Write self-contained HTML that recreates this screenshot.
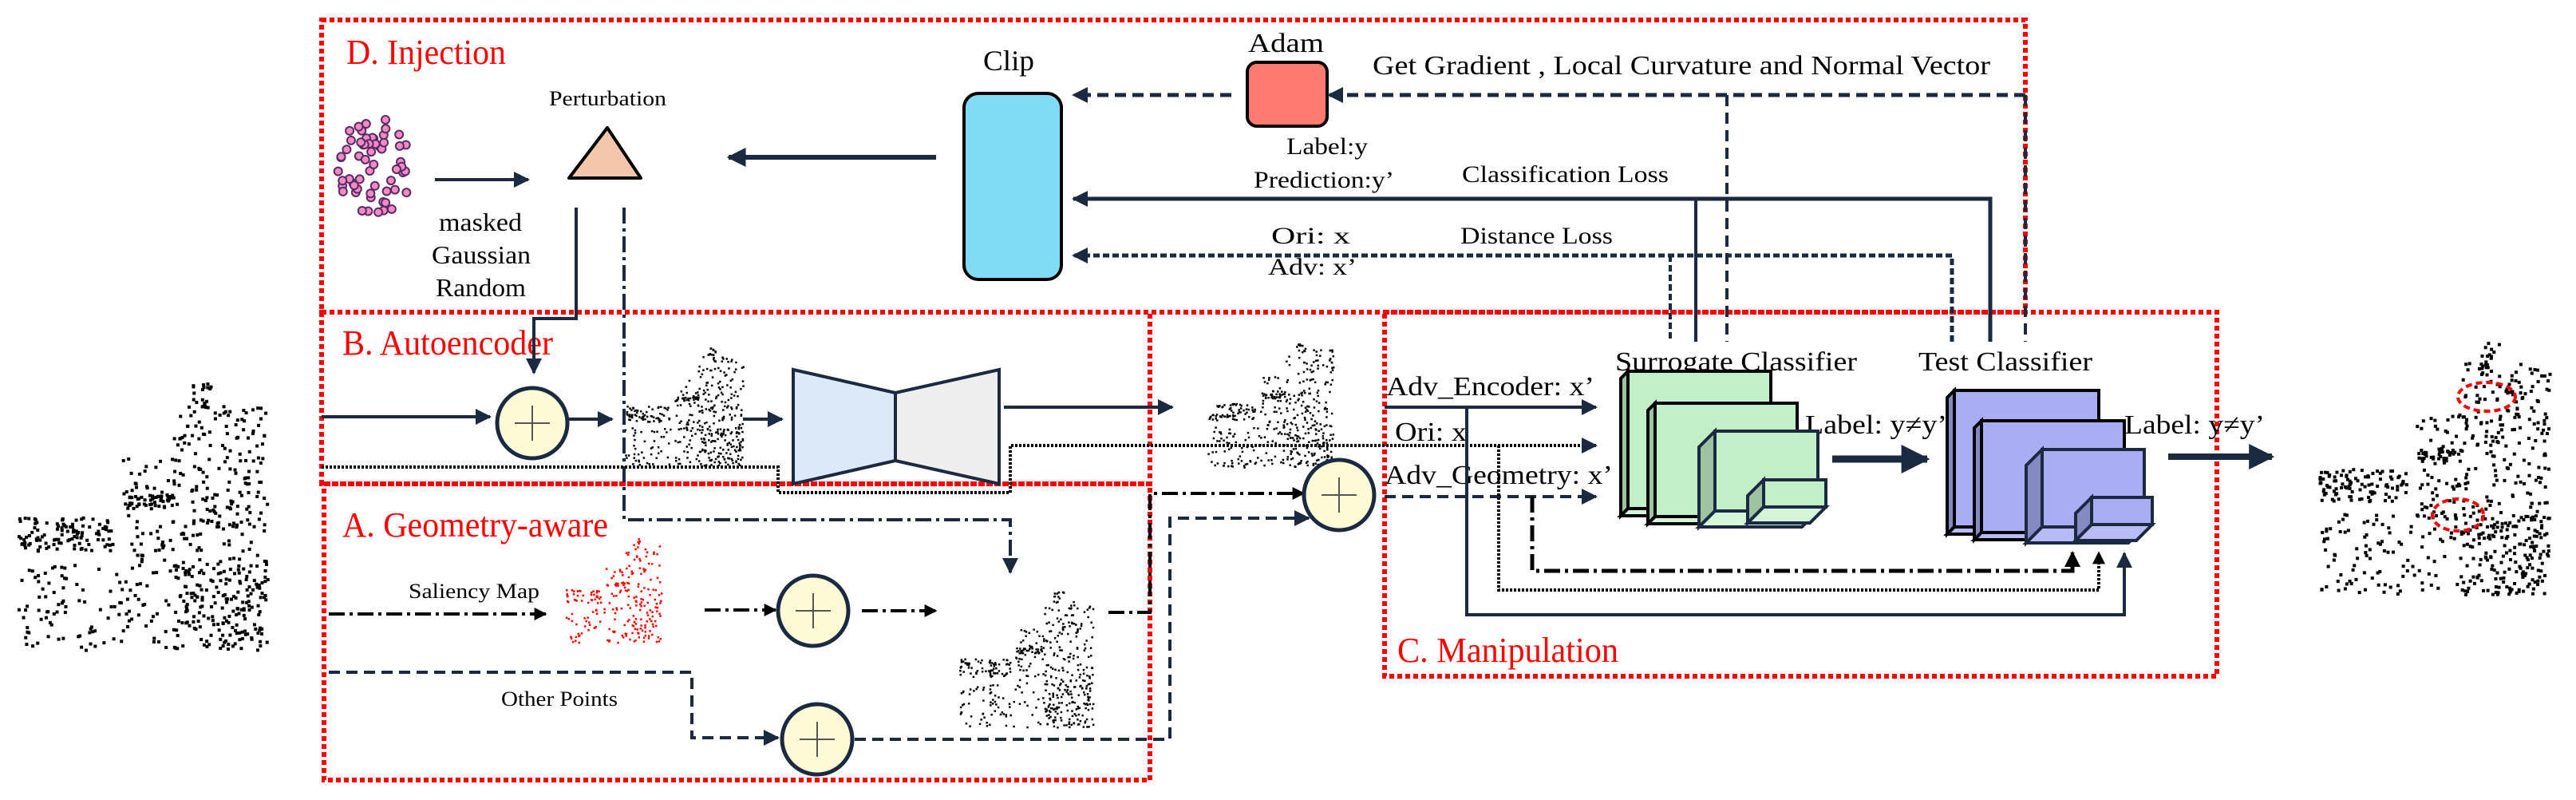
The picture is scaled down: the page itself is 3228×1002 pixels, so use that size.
<!DOCTYPE html>
<html><head><meta charset="utf-8"><style>
html,body{margin:0;padding:0;background:#fff;}
text{font-family:"Liberation Serif","Times New Roman",serif;}
</style></head><body>
<svg id="s" xmlns="http://www.w3.org/2000/svg" width="3228" height="997" viewBox="0 0 3228 997" font-family="Liberation Serif, serif">
<defs>
<marker id="ah" viewBox="0 0 10 10" refX="9" refY="5" markerWidth="5" markerHeight="5" orient="auto" markerUnits="strokeWidth"><path d="M0,0L10,5L0,10z" fill="#1b2a41"/></marker>
<marker id="ahs" viewBox="0 0 10 10" refX="9" refY="5" markerWidth="4" markerHeight="4" orient="auto" markerUnits="strokeWidth"><path d="M0,0L10,5L0,10z" fill="#1b2a41"/></marker>
<marker id="ahk" viewBox="0 0 10 10" refX="9" refY="5" markerWidth="4" markerHeight="4" orient="auto" markerUnits="strokeWidth"><path d="M0,0L10,5L0,10z" fill="#000"/></marker>
</defs>
<g id="clouds"></g>

<g fill="none" stroke="#f00" stroke-width="6" stroke-dasharray="6 4">
<rect x="403" y="25" width="2135" height="366"/>
<rect x="403" y="391" width="1038" height="215"/>
<rect x="406" y="606" width="1035" height="371"/>
<rect x="1735" y="391" width="1043" height="456"/>
</g>

<g fill="#f00" font-size="44" font-family="Liberation Serif, serif">
<text x="434" y="80" textLength="200" lengthAdjust="spacingAndGlyphs">D. Injection</text>
<text x="429" y="444" textLength="264" lengthAdjust="spacingAndGlyphs">B. Autoencoder</text>
<text x="429" y="672" textLength="333" lengthAdjust="spacingAndGlyphs">A. Geometry-aware</text>
<text x="1751" y="829" textLength="277" lengthAdjust="spacingAndGlyphs">C. Manipulation</text>
</g>

<g fill="#000" font-family="Liberation Serif, serif">
<text x="688" y="132" font-size="26" textLength="147" lengthAdjust="spacingAndGlyphs">Perturbation</text>
<text x="550" y="289" font-size="32" textLength="104" lengthAdjust="spacingAndGlyphs">masked</text>
<text x="541" y="330" font-size="32" textLength="124" lengthAdjust="spacingAndGlyphs">Gaussian</text>
<text x="546" y="371" font-size="32" textLength="113" lengthAdjust="spacingAndGlyphs">Random</text>
<text x="1232" y="88" font-size="36" textLength="64" lengthAdjust="spacingAndGlyphs">Clip</text>
<text x="1564" y="65" font-size="34" textLength="95" lengthAdjust="spacingAndGlyphs">Adam</text>
<text x="1720" y="93" font-size="34" textLength="774" lengthAdjust="spacingAndGlyphs">Get Gradient , Local Curvature and Normal Vector</text>
<text x="1612" y="193" font-size="30" textLength="102" lengthAdjust="spacingAndGlyphs">Label:y</text>
<text x="1571" y="235" font-size="30" textLength="176" lengthAdjust="spacingAndGlyphs">Prediction:y’</text>
<text x="1832" y="228" font-size="30" textLength="259" lengthAdjust="spacingAndGlyphs">Classification Loss</text>
<text x="1593" y="305" font-size="30" textLength="99" lengthAdjust="spacingAndGlyphs">Ori: x</text>
<text x="1589" y="344" font-size="30" textLength="111" lengthAdjust="spacingAndGlyphs">Adv: x’</text>
<text x="1830" y="305" font-size="30" textLength="191" lengthAdjust="spacingAndGlyphs">Distance Loss</text>
<text x="512" y="749" font-size="26" textLength="164" lengthAdjust="spacingAndGlyphs">Saliency Map</text>
<text x="628" y="884" font-size="26" textLength="146" lengthAdjust="spacingAndGlyphs">Other Points</text>
<text x="1737" y="495" font-size="34" textLength="261" lengthAdjust="spacingAndGlyphs">Adv_Encoder: x’</text>
<text x="1748" y="552" font-size="34" textLength="90" lengthAdjust="spacingAndGlyphs">Ori: x</text>
<text x="1735" y="606" font-size="34" textLength="286" lengthAdjust="spacingAndGlyphs">Adv_Geometry: x’</text>
<text x="2024" y="464" font-size="34" textLength="303" lengthAdjust="spacingAndGlyphs">Surrogate Classifier</text>
<text x="2404" y="464" font-size="34" textLength="218" lengthAdjust="spacingAndGlyphs">Test Classifier</text>
<text x="2262" y="543" font-size="34" textLength="178" lengthAdjust="spacingAndGlyphs">Label: y≠y’</text>
<text x="2662" y="543" font-size="34" textLength="176" lengthAdjust="spacingAndGlyphs">Label: y≠y’</text>
</g>

<polygon points="761,160 713,223 803,223" fill="#f4c7ad" stroke="#000" stroke-width="4" stroke-linejoin="round"/>
<rect x="1208" y="117" width="122" height="233" rx="18" fill="#7fdcf2" stroke="#000" stroke-width="4"/>
<rect x="1563" y="78" width="100" height="80" rx="12" fill="#ff7b72" stroke="#000" stroke-width="4"/>
<polygon points="994,463 1122,492 1122,577 994,606" fill="#dce9f6" stroke="#1b2a41" stroke-width="4"/>
<polygon points="1122,492 1252,463 1252,606 1122,577" fill="#eeeeee" stroke="#1b2a41" stroke-width="4"/>

<g fill="none" stroke="#1b2a41" stroke-width="4">
<line x1="545" y1="225" x2="662" y2="225" marker-end="url(#ah)"/>
<line x1="1173" y1="197" x2="913" y2="197" stroke-width="6" marker-end="url(#ahs)"/>
<line x1="1543" y1="119" x2="1345" y2="119" stroke-dasharray="14 8" stroke-width="5" marker-end="url(#ahs)"/>
<polyline points="2538,119 1665,119" stroke-dasharray="14 8" stroke-width="5" marker-end="url(#ahs)"/>
<line x1="2538" y1="119" x2="2538" y2="428" stroke-dasharray="14 8"/>
<line x1="2164" y1="119" x2="2164" y2="428" stroke-dasharray="14 8"/>
<polyline points="2494,428 2494,249 1345,249" stroke-width="5" marker-end="url(#ahs)"/>
<line x1="2125" y1="249" x2="2125" y2="428"/>
<polyline points="2446,428 2446,320 1345,320" stroke-dasharray="8 4" stroke-width="5" marker-end="url(#ahs)"/>
<line x1="2093" y1="320" x2="2093" y2="428" stroke-dasharray="8 4"/>
<polyline points="722,260 722,399 669,399 669,467" marker-end="url(#ah)"/>
<polyline points="782,260 782,651 1266,651 1266,717" stroke-dasharray="20 6 4 6" marker-end="url(#ah)"/>
<line x1="403" y1="522" x2="614" y2="522" marker-end="url(#ah)"/>
<line x1="713" y1="525" x2="767" y2="525" marker-end="url(#ah)"/>
<line x1="931" y1="525" x2="980" y2="525" marker-end="url(#ah)"/>
<line x1="1258" y1="510" x2="1469" y2="510" marker-end="url(#ah)"/>
<polyline points="403,585 975,585 975,617 1266,617 1266,558 2000,558" stroke="#000" stroke-dasharray="3 2" marker-end="url(#ah)"/>
<line x1="412" y1="769" x2="684" y2="769" stroke-dasharray="20 6 4 6" stroke="#000" marker-end="url(#ahk)"/>
<line x1="883" y1="764" x2="972" y2="764" stroke-dasharray="20 6 4 6" stroke="#000" marker-end="url(#ahk)"/>
<line x1="1080" y1="765" x2="1173" y2="765" stroke-dasharray="20 6 4 6" stroke="#000" marker-end="url(#ahk)"/>
<polyline points="1389,767 1441,767 1441,618 1634,618" stroke-dasharray="20 6 4 6" stroke="#000" marker-end="url(#ahk)"/>
<polyline points="412,842 867,842 867,924 975,924" stroke-dasharray="14 8" marker-end="url(#ah)"/>
<polyline points="1071,926 1466,926 1466,649 1640,649" stroke-dasharray="14 8" marker-end="url(#ah)"/>
<line x1="1735" y1="510" x2="2000" y2="510" marker-end="url(#ah)"/>
<line x1="1735" y1="622" x2="2000" y2="622" stroke-dasharray="14 8" marker-end="url(#ah)"/>
<polyline points="1838,510 1838,770 2662,770 2662,693" marker-end="url(#ah)"/>
<polyline points="1878,558 1878,739 2630,739 2630,692" stroke="#000" stroke-dasharray="3 2" marker-end="url(#ahk)"/>
<polyline points="1920,622 1920,715 2597,715 2597,692" stroke="#000" stroke-width="5" stroke-dasharray="20 6 4 6" marker-end="url(#ahk)"/>
<line x1="2296" y1="575" x2="2415" y2="575" stroke-width="9" marker-end="url(#ahs)"/>
<line x1="2717" y1="572" x2="2847" y2="572" stroke-width="8" marker-end="url(#ahs)"/>
</g>

<g stroke="#1b2a41" stroke-width="5" fill="#fffbd6">
<circle cx="667" cy="530" r="44"/>
<circle cx="1019" cy="765" r="44"/>
<circle cx="1024" cy="926" r="44"/>
<circle cx="1678" cy="620" r="44"/>
</g>
<g stroke="#555" stroke-width="2">
<path d="M645,530h44M667,508v44"/>
<path d="M997,765h44M1019,743v44"/>
<path d="M1002,926h44M1024,904v44"/>
<path d="M1656,620h44M1678,598v44"/>
</g>

<g id="blocks" stroke-width="4"></g>

<g fill="none" stroke="#f00" stroke-width="4" stroke-dasharray="8 5">
<ellipse cx="3116" cy="497" rx="36" ry="18"/>
<ellipse cx="3080" cy="645" rx="32" ry="20"/>
</g>
</svg>
<script>
var NS="http://www.w3.org/2000/svg";
var seed=12345;function rnd(){seed=(seed*1103515245+12345)%2147483648;return seed/2147483648;}
var cg=document.getElementById("clouds");
function el(t,a,p){var e=document.createElementNS(NS,t);for(var k in a)e.setAttribute(k,a[k]);(p||cg).appendChild(e);return e;}
for(var i=0;i<60;i++){var a=rnd()*6.283,r=Math.sqrt(rnd())*50;el("circle",{cx:470+Math.cos(a)*r*0.95,cy:210+Math.sin(a)*r*1.25,r:5,fill:"#f08cc0",stroke:"#5a2a6a","stroke-width":2});}
var reg=[[0.62,0.08,0.38,0.92,0.35],[0.7,0,0.08,0.1,0.02],[0,0.5,0.38,0.13,0.12],[0,0.68,1,0.32,0.22],[0.42,0.28,0.2,0.42,0.07],[0.42,0.42,0.2,0.04,0.04]];
function cloud(x,y,w,h,n,s,col){for(var j=0;j<reg.length;j++){var g=reg[j],m=Math.round(n*g[4]);for(var i=0;i<m;i++){el("rect",{x:x+(g[0]+rnd()*g[2])*w,y:y+(g[1]+rnd()*g[3])*h,width:s,height:s,fill:col});}}}
cloud(21,479,313,334,900,4,"#000");
cloud(782,434,149,148,550,2.5,"#000");
cloud(1513,424,157,161,550,2.5,"#000");
cloud(1202,739,167,171,600,2.5,"#000");
cloud(708,672,120,132,300,2.5,"#f00");
cloud(2905,428,289,315,850,4,"#000");
var bg=document.getElementById("blocks");
function block(x0,y0,x1,y1,d,f,side,bot,st){
 el("polygon",{points:[x0,y0,x0-d,y0+d,x0-d,y1+d,x0,y1].join(","),fill:side,stroke:st},bg);
 el("polygon",{points:[x0-d,y1+d,x1-d,y1+d,x1,y1,x0,y1].join(","),fill:bot,stroke:st},bg);
 el("rect",{x:x0,y:y0,width:x1-x0,height:y1-y0,fill:f,stroke:st},bg);}
var G="#c3efc8",GS="#9cc4a2",GB="#d4f5d8";
block(2040,465,2219,637,9,G,GS,GB,"#000");
block(2074,505,2252,647,9,G,GS,GB,"#000");
block(2149,540,2278,640,20,G,GS,GB,"#1b2a41");
block(2210,601,2288,635,20,G,GS,GB,"#1b2a41");
var B="#a9adf3",BS="#8589c4",BB="#b8bcf6";
block(2449,489,2630,660,9,B,BS,BB,"#000");
block(2483,527,2662,667,9,B,BS,BB,"#000");
block(2559,563,2687,660,20,B,BS,BB,"#1b2a41");
block(2621,623,2697,657,20,B,BS,BB,"#1b2a41");
</script>
</body></html>
